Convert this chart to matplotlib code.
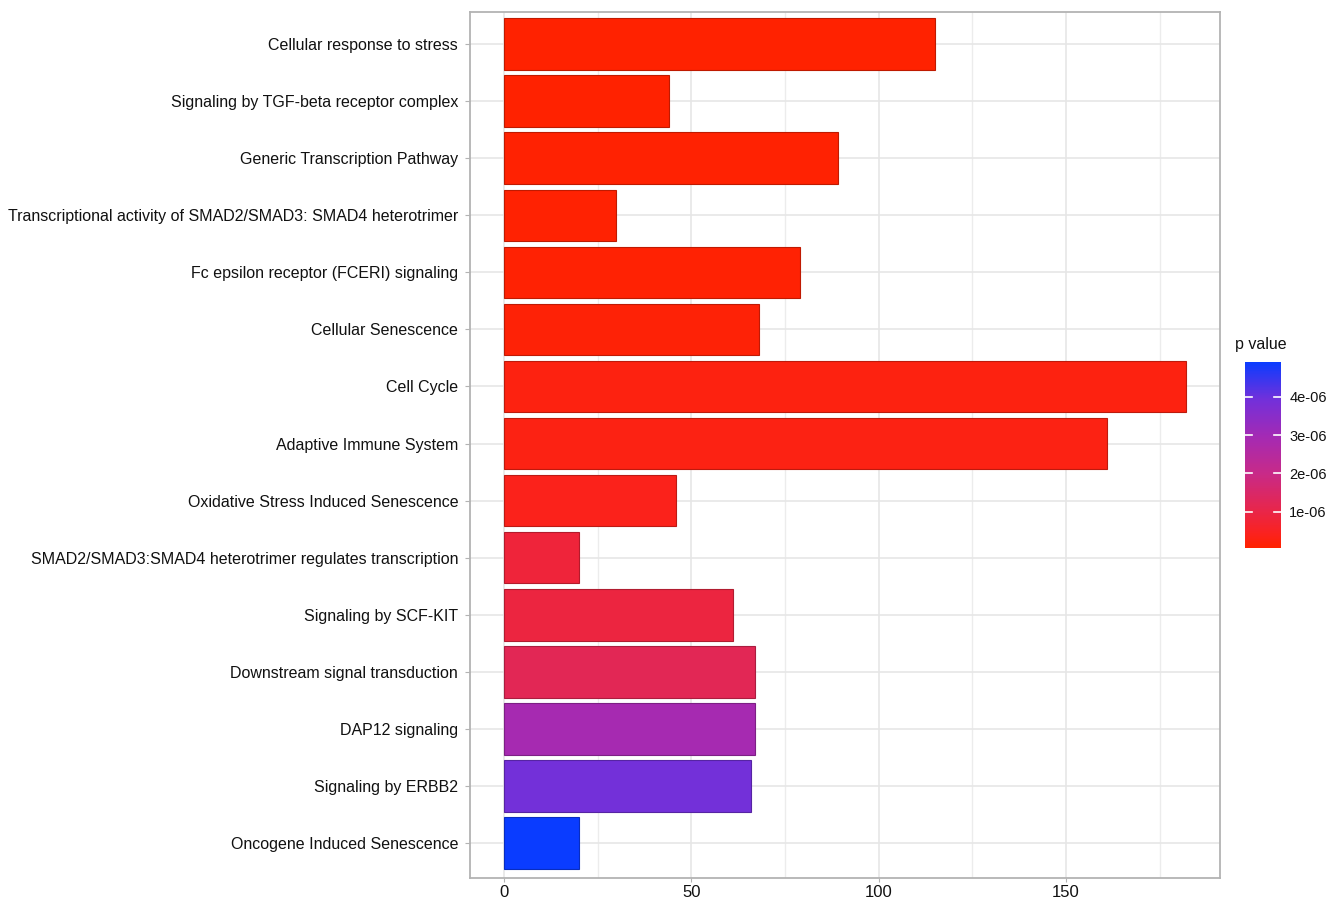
import numpy as np
import matplotlib
matplotlib.use("Agg")
import matplotlib.pyplot as plt
from matplotlib.colors import LinearSegmentedColormap, Normalize, to_rgb

plt.rcParams['font.family'] = ['Liberation Sans', 'DejaVu Sans']

pathways = [
    "Cellular response to stress",
    "Signaling by TGF-beta receptor complex",
    "Generic Transcription Pathway",
    "Transcriptional activity of SMAD2/SMAD3: SMAD4 heterotrimer",
    "Fc epsilon receptor (FCERI) signaling",
    "Cellular Senescence",
    "Cell Cycle",
    "Adaptive Immune System",
    "Oxidative Stress Induced Senescence",
    "SMAD2/SMAD3:SMAD4 heterotrimer regulates transcription",
    "Signaling by SCF-KIT",
    "Downstream signal transduction",
    "DAP12 signaling",
    "Signaling by ERBB2",
    "Oncogene Induced Senescence",
]
gene_counts = [115, 44, 89, 30, 79, 68, 182, 161, 46, 20, 61, 67, 67, 66, 20]
p_values = [6.0e-08, 7.0e-08, 8.0e-08, 9.0e-08, 1.1e-07, 1.5e-07, 2.5e-07,
            3.0e-07, 4.0e-07, 8.0e-07, 9.0e-07, 1.2e-06, 2.9e-06, 3.9e-06, 4.9e-06]

cbar_ticks = [1e-06, 2e-06, 3e-06, 4e-06]
cbar_ticklabels = ["1e-06", "2e-06", "3e-06", "4e-06"]
x_ticks = [0, 50, 100, 150]

# red -> blue gradient through magenta/purple
cmap = LinearSegmentedColormap.from_list(
    "red_blue",
    [(0.0, "#ff2200"), (0.08, "#fa2220"), (0.2, "#e8264a"), (0.4, "#c82a88"),
     (0.6, "#a42ab4"), (0.8, "#7230da"), (1.0, "#0a3cff")])
norm = Normalize(vmin=min(p_values), vmax=max(p_values))

fig = plt.figure(figsize=(13.36, 9.0), dpi=100)
ax = fig.add_axes([470 / 1336, 1 - 878 / 900, 750 / 1336, 866 / 900])

y = np.arange(len(pathways))
colors = [cmap(norm(p)) for p in p_values]
edges = [tuple(np.array(to_rgb(c)) * 0.75) for c in colors]
ax.barh(y, gene_counts, height=0.9, color=colors, edgecolor=edges,
        linewidth=0.8, zorder=3)

xmax = max(gene_counts)
pad = 0.05 * xmax
ax.set_xlim(-pad, xmax + pad)
ax.set_ylim(len(pathways) - 0.39, -0.56)

ax.set_yticks(y)
ax.set_yticklabels(pathways, fontsize=11.5, color="#111111")
ax.set_xticks(x_ticks)
ax.set_xticklabels([str(t) for t in x_ticks], fontsize=12, color="#111111")
ax.set_xticks(np.arange(25, 200, 50), minor=True)

ax.grid(True, which="major", color="#e6e6e6", linewidth=1.2, zorder=0)
ax.grid(True, which="minor", axis="x", color="#ececec", linewidth=1.0, zorder=0)
ax.tick_params(axis="y", which="major", length=3.5, width=0.8, color="#b3b3b3",
               pad=5)
ax.tick_params(axis="x", which="major", length=3, width=0.8, color="#b3b3b3",
               pad=2)
ax.tick_params(axis="x", which="minor", length=0)
for s in ax.spines.values():
    s.set_color("#b3b3b3")
    s.set_linewidth(1.3)

# colour bar legend
cax = fig.add_axes([1245 / 1336, 1 - 548 / 900, 36 / 1336, 186 / 900])
sm = plt.cm.ScalarMappable(cmap=cmap, norm=Normalize(vmin=min(p_values), vmax=max(p_values)))
cb = fig.colorbar(sm, cax=cax)
cb.outline.set_visible(False)
cb.set_ticks(cbar_ticks)
cb.set_ticklabels(cbar_ticklabels)
cax.tick_params(length=0, labelsize=10.5, pad=6, labelcolor="#111111")
for t in cbar_ticks:
    cax.plot([0, 0.2], [t, t], color="white", lw=1.2, transform=cax.get_yaxis_transform())
    cax.plot([0.8, 1.0], [t, t], color="white", lw=1.2, transform=cax.get_yaxis_transform())
fig.text(1235 / 1336, 1 - 344 / 900, "p value", fontsize=11.5, va="center", ha="left",
         color="#111111")

fig.savefig("out.png", dpi=100)
